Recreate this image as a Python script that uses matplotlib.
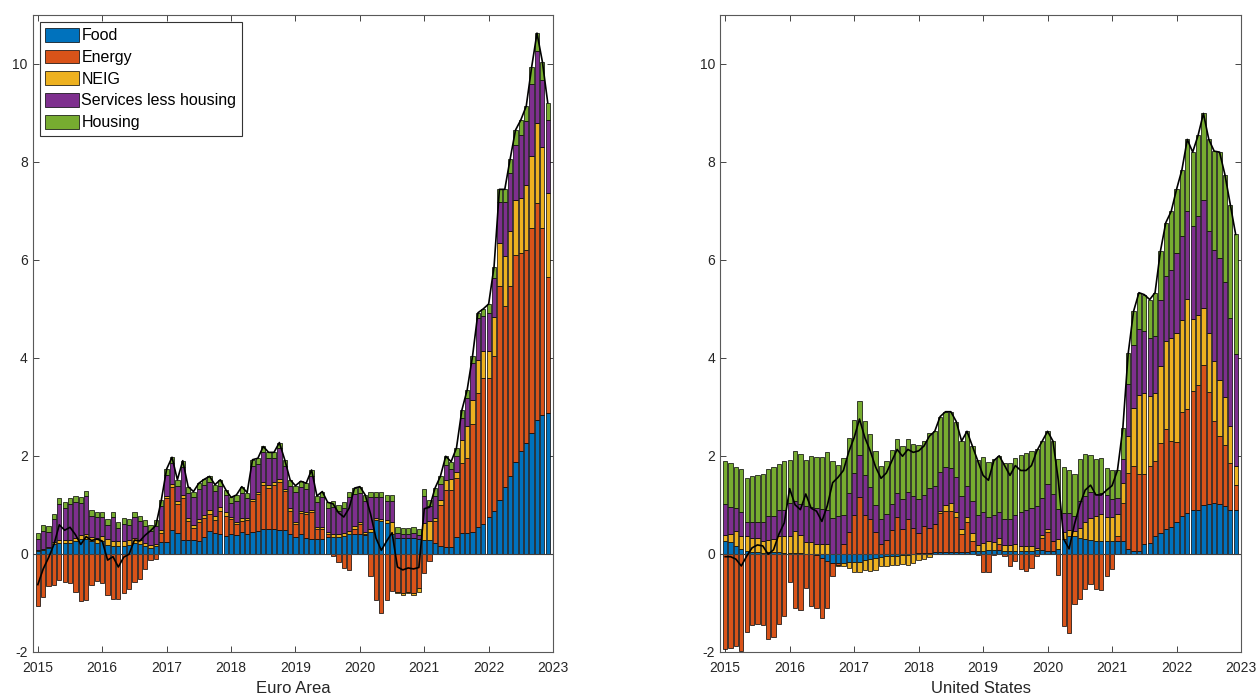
import numpy as np
import matplotlib.pyplot as plt

plt.rcParams['font.family'] = ['Liberation Sans', 'DejaVu Sans']
plt.rcParams['axes.unicode_minus'] = False

# monthly contributions, Jan 2015 - Dec 2022 (one row per year)
names = ['Food', 'Energy', 'NEIG', 'Services less housing', 'Housing']
colors = ['#0072BD', '#D95319', '#EDB120', '#7E2F8E', '#77AC30']

ea_food = [
    0.05, 0.08, 0.12, 0.20, 0.22, 0.22, 0.22, 0.25, 0.30, 0.30, 0.25, 0.22,
    0.25, 0.18, 0.15, 0.15, 0.15, 0.18, 0.22, 0.20, 0.15, 0.12, 0.15, 0.23,
    0.23, 0.49, 0.42, 0.29, 0.29, 0.29, 0.25, 0.35, 0.46, 0.42, 0.41, 0.37,
    0.40, 0.38, 0.45, 0.40, 0.45, 0.47, 0.50, 0.50, 0.50, 0.48, 0.48, 0.40,
    0.35, 0.40, 0.32, 0.30, 0.30, 0.30, 0.35, 0.35, 0.35, 0.37, 0.40, 0.40,
    0.40, 0.38, 0.45, 0.68, 0.66, 0.62, 0.40, 0.32, 0.32, 0.32, 0.32, 0.30,
    0.28, 0.29, 0.22, 0.15, 0.14, 0.14, 0.35, 0.42, 0.42, 0.44, 0.55, 0.60,
    0.75, 0.88, 1.10, 1.37, 1.58, 1.88, 2.09, 2.26, 2.46, 2.73, 2.84, 2.87]
ea_energy = [
    -1.06, -0.89, -0.65, -0.63, -0.54, -0.57, -0.60, -0.79, -0.97, -0.94, -0.63, -0.56,
    -0.60, -0.84, -0.92, -0.92, -0.80, -0.72, -0.58, -0.52, -0.31, -0.12, -0.11, 0.20,
    0.90, 0.88, 0.60, 0.85, 0.37, 0.24, 0.39, 0.37, 0.36, 0.27, 0.46, 0.40,
    0.30, 0.22, 0.22, 0.28, 0.62, 0.75, 0.90, 0.85, 0.90, 0.99, 0.80, 0.48,
    0.25, 0.44, 0.50, 0.55, 0.20, 0.20, 0.05, -0.05, -0.16, -0.30, -0.34, 0.10,
    0.20, 0.02, -0.46, -0.95, -1.20, -0.94, -0.77, -0.78, -0.80, -0.78, -0.80, -0.70,
    -0.40, -0.15, 0.44, 0.85, 1.17, 1.17, 1.20, 1.43, 1.53, 2.20, 2.73, 2.99,
    2.84, 3.15, 4.36, 3.68, 3.88, 4.22, 4.05, 3.94, 4.19, 4.44, 3.81, 2.79]
ea_neig = [
    0.02, 0.02, 0.02, 0.04, 0.06, 0.06, 0.07, 0.07, 0.08, 0.10, 0.10, 0.10,
    0.12, 0.12, 0.12, 0.12, 0.11, 0.10, 0.10, 0.08, 0.06, 0.05, 0.05, 0.05,
    0.05, 0.05, 0.05, 0.06, 0.06, 0.06, 0.07, 0.08, 0.08, 0.08, 0.08, 0.08,
    0.05, 0.05, 0.05, 0.05, 0.05, 0.05, 0.06, 0.06, 0.06, 0.06, 0.05, 0.05,
    0.04, 0.04, 0.04, 0.04, 0.04, 0.04, 0.04, 0.05, 0.05, 0.05, 0.06, 0.06,
    0.05, 0.05, 0.05, 0.05, 0.05, 0.07, 0.25, -0.03, -0.05, -0.03, -0.05, -0.08,
    0.35, 0.38, 0.07, 0.10, 0.20, 0.22, 0.12, 0.48, 0.65, 0.50, 0.68, 0.54,
    0.54, 0.81, 0.88, 1.02, 1.12, 1.13, 1.12, 1.33, 1.47, 1.63, 1.65, 1.70]
ea_services = [
    0.23, 0.36, 0.31, 0.46, 0.73, 0.65, 0.73, 0.74, 0.66, 0.77, 0.43, 0.42,
    0.37, 0.29, 0.47, 0.26, 0.35, 0.31, 0.42, 0.38, 0.36, 0.30, 0.37, 0.49,
    0.43, 0.43, 0.32, 0.58, 0.53, 0.56, 0.61, 0.60, 0.56, 0.52, 0.44, 0.34,
    0.28, 0.43, 0.53, 0.40, 0.68, 0.56, 0.62, 0.55, 0.50, 0.63, 0.47, 0.46,
    0.63, 0.48, 0.46, 0.70, 0.52, 0.61, 0.49, 0.55, 0.48, 0.51, 0.69, 0.66,
    0.60, 0.63, 0.65, 0.42, 0.44, 0.39, 0.43, 0.10, 0.08, 0.08, 0.10, 0.08,
    0.55, 0.30, 0.44, 0.33, 0.31, 0.20, 0.32, 0.45, 0.58, 0.76, 0.85, 0.73,
    0.78, 0.79, 0.85, 1.12, 1.20, 1.12, 1.29, 1.31, 1.47, 1.47, 1.37, 1.50]
ea_housing = [
    0.13, 0.12, 0.12, 0.12, 0.12, 0.12, 0.12, 0.12, 0.12, 0.12, 0.12, 0.12,
    0.12, 0.12, 0.12, 0.12, 0.12, 0.12, 0.12, 0.12, 0.12, 0.12, 0.12, 0.12,
    0.12, 0.12, 0.12, 0.12, 0.12, 0.12, 0.12, 0.12, 0.12, 0.12, 0.12, 0.12,
    0.12, 0.12, 0.12, 0.12, 0.12, 0.12, 0.11, 0.11, 0.11, 0.11, 0.12, 0.12,
    0.12, 0.12, 0.12, 0.12, 0.12, 0.12, 0.12, 0.12, 0.12, 0.12, 0.12, 0.12,
    0.12, 0.12, 0.12, 0.12, 0.12, 0.12, 0.12, 0.12, 0.12, 0.12, 0.12, 0.12,
    0.14, 0.13, 0.17, 0.15, 0.17, 0.15, 0.17, 0.15, 0.17, 0.14, 0.11, 0.14,
    0.19, 0.23, 0.25, 0.25, 0.28, 0.30, 0.31, 0.30, 0.34, 0.36, 0.38, 0.35]

us_food = [
    0.26, 0.24, 0.16, 0.10, 0.05, 0.03, 0.03, 0.02, 0.03, 0.03, 0.03, 0.02,
    0.02, 0.02, 0.02, 0.00, 0.00, -0.03, -0.08, -0.14, -0.18, -0.18, -0.18, -0.17,
    -0.17, -0.17, -0.12, -0.10, -0.08, -0.06, -0.05, -0.05, -0.04, -0.03, -0.02, -0.01,
    0.02, 0.02, 0.02, 0.03, 0.03, 0.03, 0.03, 0.03, 0.04, 0.04, 0.05, 0.05,
    0.06, 0.07, 0.08, 0.07, 0.06, 0.06, 0.05, 0.05, 0.05, 0.06, 0.07, 0.07,
    0.05, 0.05, 0.10, 0.30, 0.36, 0.36, 0.33, 0.30, 0.28, 0.27, 0.27, 0.25,
    0.26, 0.26, 0.26, 0.09, 0.05, 0.05, 0.19, 0.22, 0.36, 0.43, 0.50, 0.55,
    0.65, 0.77, 0.84, 0.90, 0.90, 0.99, 1.01, 1.04, 1.01, 0.97, 0.90, 0.90]
us_energy = [
    -1.95, -1.92, -1.88, -1.99, -1.60, -1.46, -1.43, -1.46, -1.75, -1.69, -1.44, -1.27,
    -0.58, -1.10, -1.14, -0.69, -1.07, -1.07, -1.23, -0.96, -0.27, -0.05, 0.20, 0.45,
    0.80, 1.15, 0.80, 0.70, 0.45, 0.20, 0.28, 0.48, 0.75, 0.50, 0.70, 0.52,
    0.40, 0.55, 0.50, 0.57, 0.80, 0.84, 0.85, 0.73, 0.36, 0.60, 0.22, -0.02,
    -0.37, -0.37, -0.03, 0.13, -0.05, -0.25, -0.15, -0.32, -0.35, -0.30, -0.04, 0.25,
    0.40, 0.20, -0.44, -1.48, -1.61, -1.03, -0.93, -0.73, -0.61, -0.73, -0.75, -0.45,
    -0.32, 0.10, 0.78, 1.56, 1.74, 1.57, 1.43, 1.57, 1.53, 1.84, 2.04, 1.75,
    1.63, 2.13, 2.11, 2.42, 2.55, 2.86, 2.29, 1.67, 1.39, 1.26, 0.96, 0.51]
us_neig = [
    0.12, 0.16, 0.31, 0.26, 0.31, 0.29, 0.30, 0.24, 0.26, 0.28, 0.33, 0.35,
    0.35, 0.44, 0.37, 0.24, 0.24, 0.20, 0.19, 0.19, 0.00, -0.03, -0.07, -0.12,
    -0.20, -0.20, -0.22, -0.25, -0.25, -0.20, -0.20, -0.18, -0.18, -0.18, -0.20, -0.17,
    -0.12, -0.10, -0.06, 0.00, 0.05, 0.12, 0.15, 0.10, 0.10, 0.12, 0.15, 0.12,
    0.15, 0.18, 0.15, 0.12, 0.12, 0.12, 0.15, 0.10, 0.10, 0.10, 0.05, 0.06,
    0.05, 0.00, 0.20, 0.15, 0.12, 0.10, 0.20, 0.35, 0.45, 0.50, 0.55, 0.50,
    0.50, 0.45, 0.40, 0.75, 1.18, 1.63, 1.67, 1.43, 1.40, 1.56, 1.80, 2.11,
    2.23, 1.88, 2.25, 1.48, 1.43, 1.17, 1.21, 1.22, 1.14, 0.97, 0.74, 0.39]
us_services = [
    0.64, 0.56, 0.46, 0.50, 0.29, 0.32, 0.31, 0.39, 0.48, 0.47, 0.54, 0.53,
    0.67, 0.61, 0.63, 0.73, 0.71, 0.73, 0.73, 0.71, 0.73, 0.77, 0.60, 0.80,
    0.84, 0.87, 0.81, 0.67, 0.55, 0.50, 0.54, 0.54, 0.50, 0.62, 0.57, 0.65,
    0.70, 0.63, 0.82, 0.78, 0.79, 0.78, 0.73, 0.70, 0.67, 0.62, 0.66, 0.63,
    0.64, 0.49, 0.57, 0.54, 0.53, 0.53, 0.59, 0.71, 0.74, 0.77, 0.85, 0.75,
    0.92, 0.97, 0.62, 0.38, 0.35, 0.32, 0.55, 0.52, 0.53, 0.44, 0.43, 0.45,
    0.35, 0.32, 0.49, 1.06, 1.30, 1.33, 1.25, 1.19, 1.15, 1.36, 1.33, 1.39,
    1.63, 1.70, 1.79, 1.89, 2.02, 2.21, 2.08, 2.28, 2.50, 2.34, 2.22, 2.27]
us_housing = [
    0.87, 0.90, 0.84, 0.88, 0.90, 0.94, 0.97, 0.97, 0.97, 0.99, 0.94, 1.00,
    0.87, 1.03, 1.02, 0.94, 1.05, 1.04, 1.05, 1.18, 1.17, 1.05, 1.15, 1.12,
    1.10, 1.10, 1.10, 1.08, 1.10, 1.10, 1.08, 1.10, 1.10, 1.08, 1.08, 1.08,
    1.10, 1.10, 1.12, 1.12, 1.13, 1.13, 1.14, 1.14, 1.13, 1.12, 1.12, 1.12,
    1.12, 1.13, 1.13, 1.14, 1.14, 1.14, 1.16, 1.16, 1.16, 1.17, 1.17, 1.17,
    1.08, 1.08, 1.02, 0.95, 0.88, 0.85, 0.85, 0.86, 0.75, 0.72, 0.70, 0.55,
    0.60, 0.57, 0.63, 0.63, 0.68, 0.75, 0.75, 0.78, 0.89, 0.99, 1.09, 1.19,
    1.30, 1.36, 1.47, 1.51, 1.64, 1.76, 1.87, 2.01, 2.16, 2.20, 2.31, 2.45]

dates = 2015 + np.arange(len(ea_food)) / 12


def stacked_panel(ax, comps, xlabel, legend=False):
    pos = np.zeros(len(dates))
    neg = np.zeros(len(dates))
    for vals, col, name in zip(comps, colors, names):
        vals = np.asarray(vals)
        base = np.where(vals >= 0, pos, neg)
        ax.bar(dates, vals, width=0.8 / 12, bottom=base, color=col,
               edgecolor='black', linewidth=0.5, label=name, zorder=2)
        pos += np.clip(vals, 0, None)
        neg += np.clip(vals, None, 0)
    # headline = sum of contributions
    ax.plot(dates, pos + neg, color='black', lw=1.2, zorder=4)
    ax.axhline(0, color='0.25', lw=0.8, zorder=3)

    ax.set_xlim(2014.92, 2023.0)
    ax.set_ylim(-2, 11)
    ax.set_xticks(range(2015, 2024))
    ax.set_yticks(range(-2, 11, 2))
    ax.tick_params(direction='in', top=True, right=True, length=4,
                   labelsize=10, colors='0.15', width=0.6)
    ax.tick_params(axis='x', pad=7)
    for s in ax.spines.values():
        s.set_color('0.35')
        s.set_linewidth(0.8)
    ax.set_xlabel(xlabel, fontsize=12, color='0.15', labelpad=4)
    if legend:
        leg = ax.legend(loc='upper left', fontsize=11.5, frameon=True, fancybox=False,
                        edgecolor='0.2', framealpha=1, handlelength=2.1,
                        handleheight=0.95, handletextpad=0.15, labelspacing=0.4,
                        borderpad=0.35, borderaxespad=0.45)
        leg.get_frame().set_linewidth(0.8)


fig = plt.figure(figsize=(12.57, 7), dpi=100)
ax1 = fig.add_axes([0.026, 0.069, 0.414, 0.9096])
ax2 = fig.add_axes([0.5728, 0.069, 0.4145, 0.9096])

stacked_panel(ax1, [ea_food, ea_energy, ea_neig, ea_services, ea_housing],
              'Euro Area', legend=True)
stacked_panel(ax2, [us_food, us_energy, us_neig, us_services, us_housing],
              'United States')

fig.savefig('out.png', dpi=100)
